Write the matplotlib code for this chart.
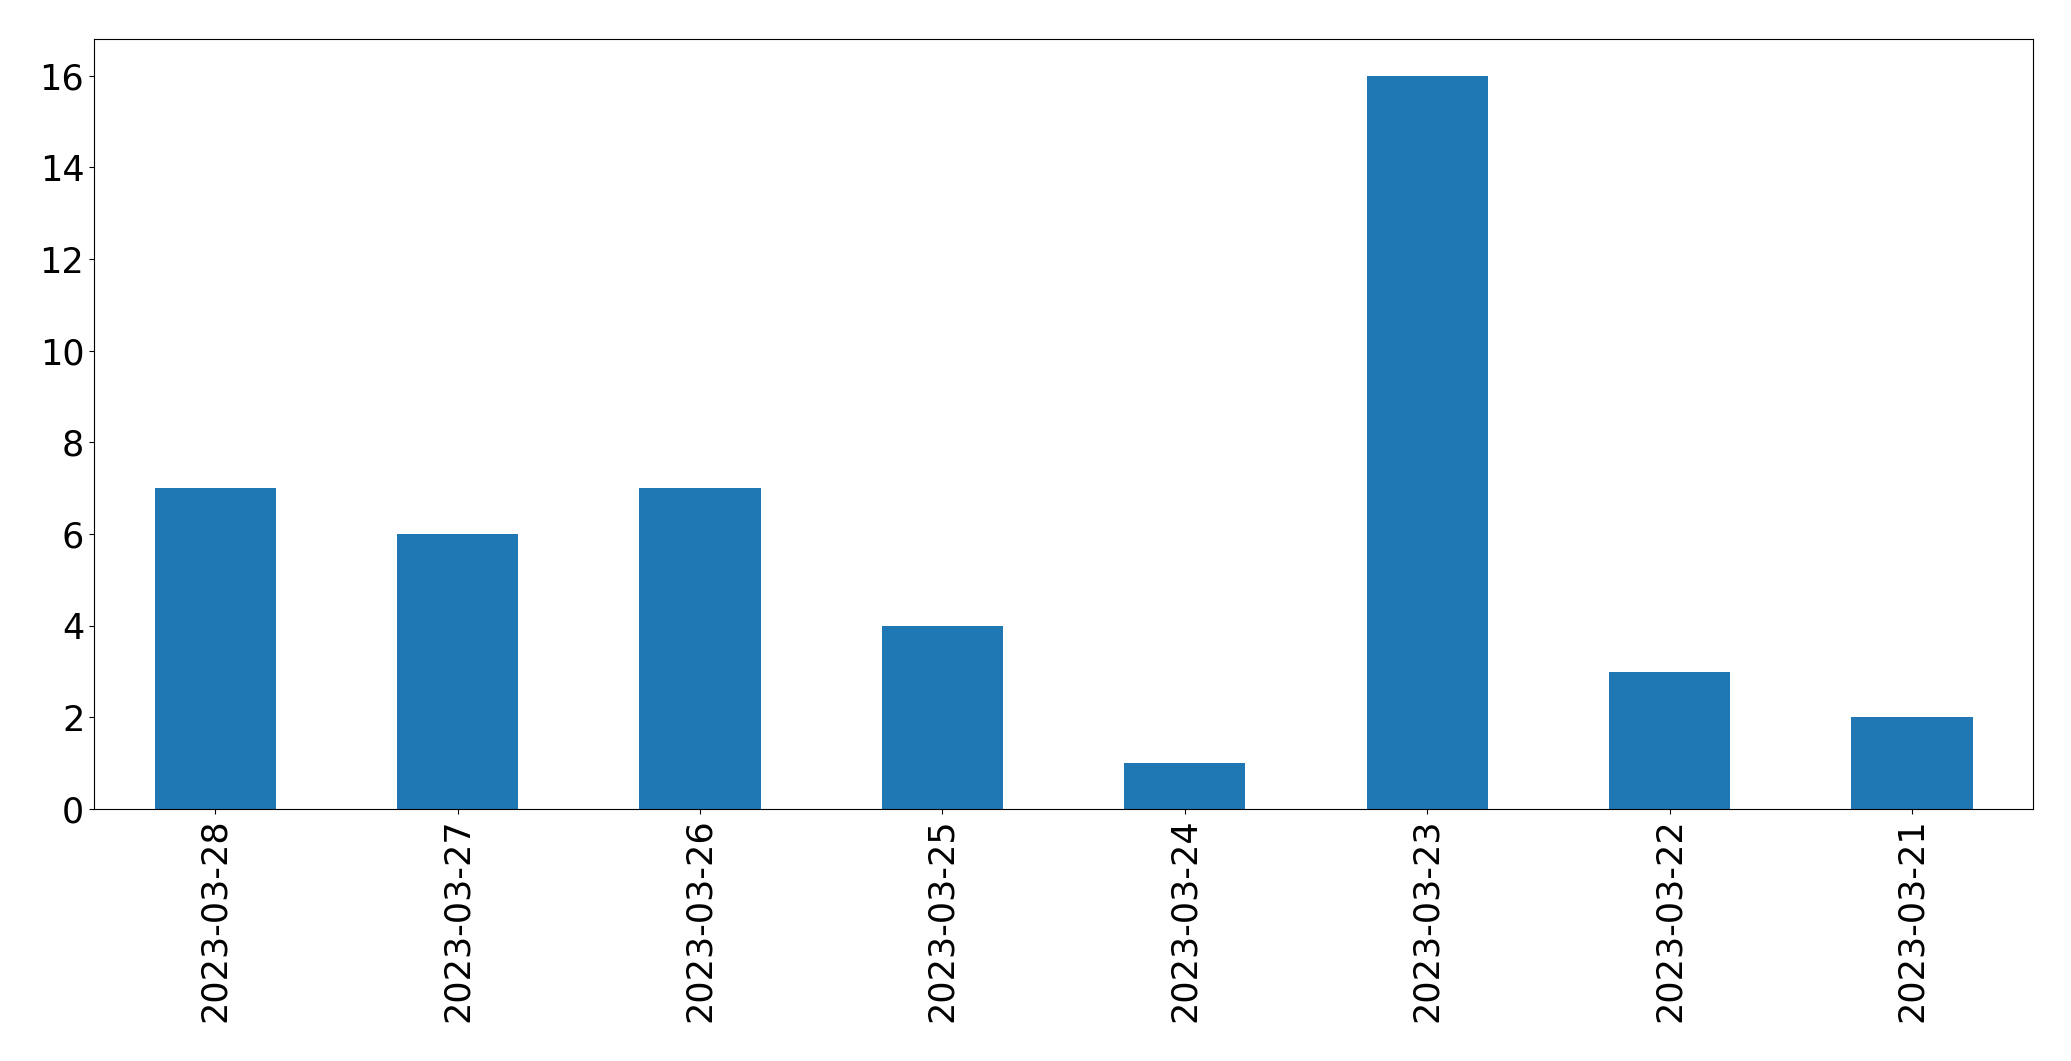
import matplotlib
matplotlib.use('Agg')
import matplotlib.pyplot as plt
import pandas as pd

dates = ['2023-03-28', '2023-03-27', '2023-03-26', '2023-03-25',
         '2023-03-24', '2023-03-23', '2023-03-22', '2023-03-21']
counts = [7, 6, 7, 4, 1, 16, 3, 2]

series = pd.Series(counts, index=dates)

fig = plt.figure(figsize=(20.71, 10.61), dpi=100)
ax = fig.add_axes([0.0454, 0.2375, 0.9363, 0.7257])
series.plot(kind='bar', ax=ax, color='#1f77b4')
ax.tick_params(axis='both', labelsize=25.2)

fig.savefig('out.png', dpi=100)
